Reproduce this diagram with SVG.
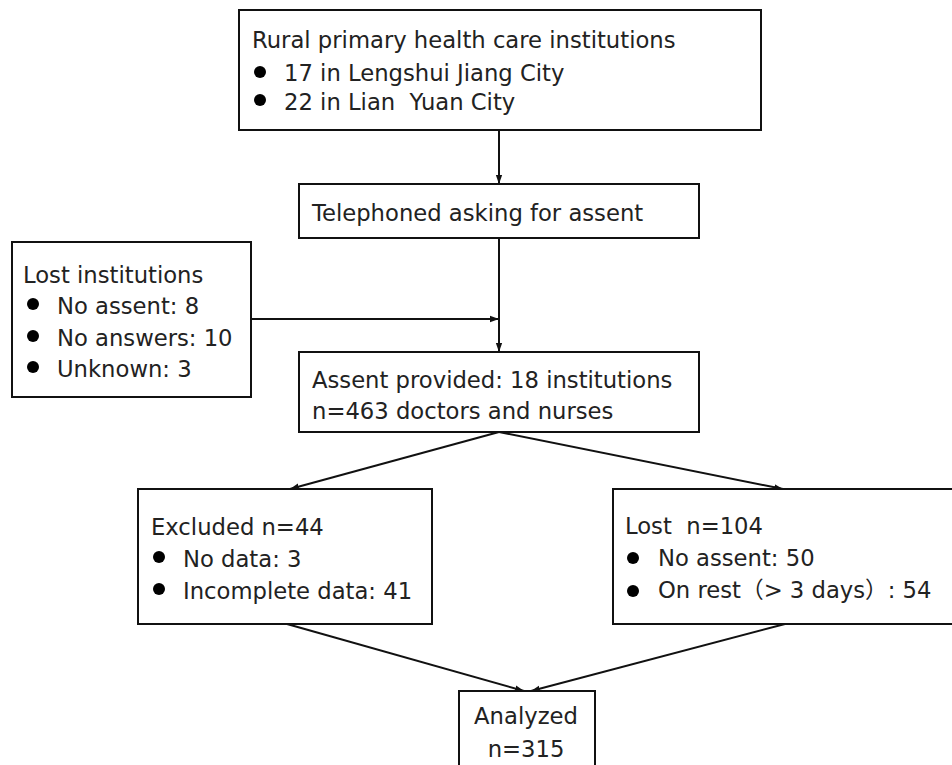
<svg xmlns="http://www.w3.org/2000/svg" width="952" height="765" viewBox="0 0 952 765">
<style>
.box{fill:#fff;stroke:#111;stroke-width:2}
.t{font-family:"DejaVu Sans","Noto Sans CJK SC",sans-serif;font-size:22.7px;fill:#222;white-space:pre}
.c{stroke:#111;stroke-width:2;fill:none;marker-end:url(#ah)}
.b{fill:#000}
</style>
<defs>
<marker id="ah" viewBox="0 0 10 10" refX="10" refY="5" markerWidth="4.5" markerHeight="4.5" orient="auto" markerUnits="strokeWidth">
<path d="M0,1.5 L10,5 L0,8.5 z" fill="#111"/>
</marker>
</defs>
<rect width="952" height="765" fill="#fff"/>
<g id="connectors">
<line class="c" x1="499" y1="130" x2="499" y2="184"/>
<line class="c" x1="499" y1="238" x2="499" y2="352"/>
<line class="c" x1="251" y1="319" x2="499" y2="319"/>
<line class="c" x1="499" y1="432" x2="290" y2="489"/>
<line class="c" x1="499" y1="432" x2="783" y2="489"/>
<line class="c" x1="287" y1="624" x2="524" y2="691"/>
<line class="c" x1="785" y1="624" x2="531" y2="691"/>
</g>
<g id="rural">
<rect class="box" x="239" y="10" width="522" height="120"/>
<text class="t" x="252" y="48">Rural primary health care institutions</text>
<circle class="b" cx="260" cy="72" r="6"/>
<text class="t" x="284" y="81">17 in Lengshui Jiang City</text>
<circle class="b" cx="260" cy="100" r="6"/>
<text class="t" x="284" y="110">22 in Lian  Yuan City</text>
</g>
<g id="telephoned">
<rect class="box" x="299" y="184" width="400" height="54"/>
<text class="t" x="312" y="221">Telephoned asking for assent</text>
</g>
<g id="lost-institutions">
<rect class="box" x="12" y="242" width="239" height="155"/>
<text class="t" x="23" y="283">Lost institutions</text>
<circle class="b" cx="33" cy="304" r="6"/>
<text class="t" x="57" y="314">No assent: 8</text>
<circle class="b" cx="33" cy="336" r="6"/>
<text class="t" x="57" y="346">No answers: 10</text>
<circle class="b" cx="33" cy="367" r="6"/>
<text class="t" x="57" y="377">Unknown: 3</text>
</g>
<g id="assent">
<rect class="box" x="299" y="352" width="400" height="80"/>
<text class="t" x="312" y="388">Assent provided: 18 institutions</text>
<text class="t" x="312" y="419">n=463 doctors and nurses</text>
</g>
<g id="excluded">
<rect class="box" x="138" y="489" width="294" height="135"/>
<text class="t" x="151" y="535">Excluded n=44</text>
<circle class="b" cx="159" cy="557" r="6"/>
<text class="t" x="183" y="567">No data: 3</text>
<circle class="b" cx="159" cy="589" r="6"/>
<text class="t" x="183" y="599">Incomplete data: 41</text>
</g>
<g id="lost">
<rect class="box" x="613" y="489" width="350" height="135"/>
<text class="t" x="625" y="534">Lost  n=104</text>
<circle class="b" cx="633" cy="558" r="6"/>
<text class="t" x="658" y="566">No assent: 50</text>
<circle class="b" cx="633" cy="591" r="6"/>
<text class="t" x="658" y="598">On rest（&gt; 3 days）: 54</text>
</g>
<g id="analyzed">
<rect class="box" x="459" y="691" width="136" height="90"/>
<text class="t" x="526" y="724" text-anchor="middle">Analyzed</text>
<text class="t" x="526" y="757" text-anchor="middle">n=315</text>
</g>
</svg>
